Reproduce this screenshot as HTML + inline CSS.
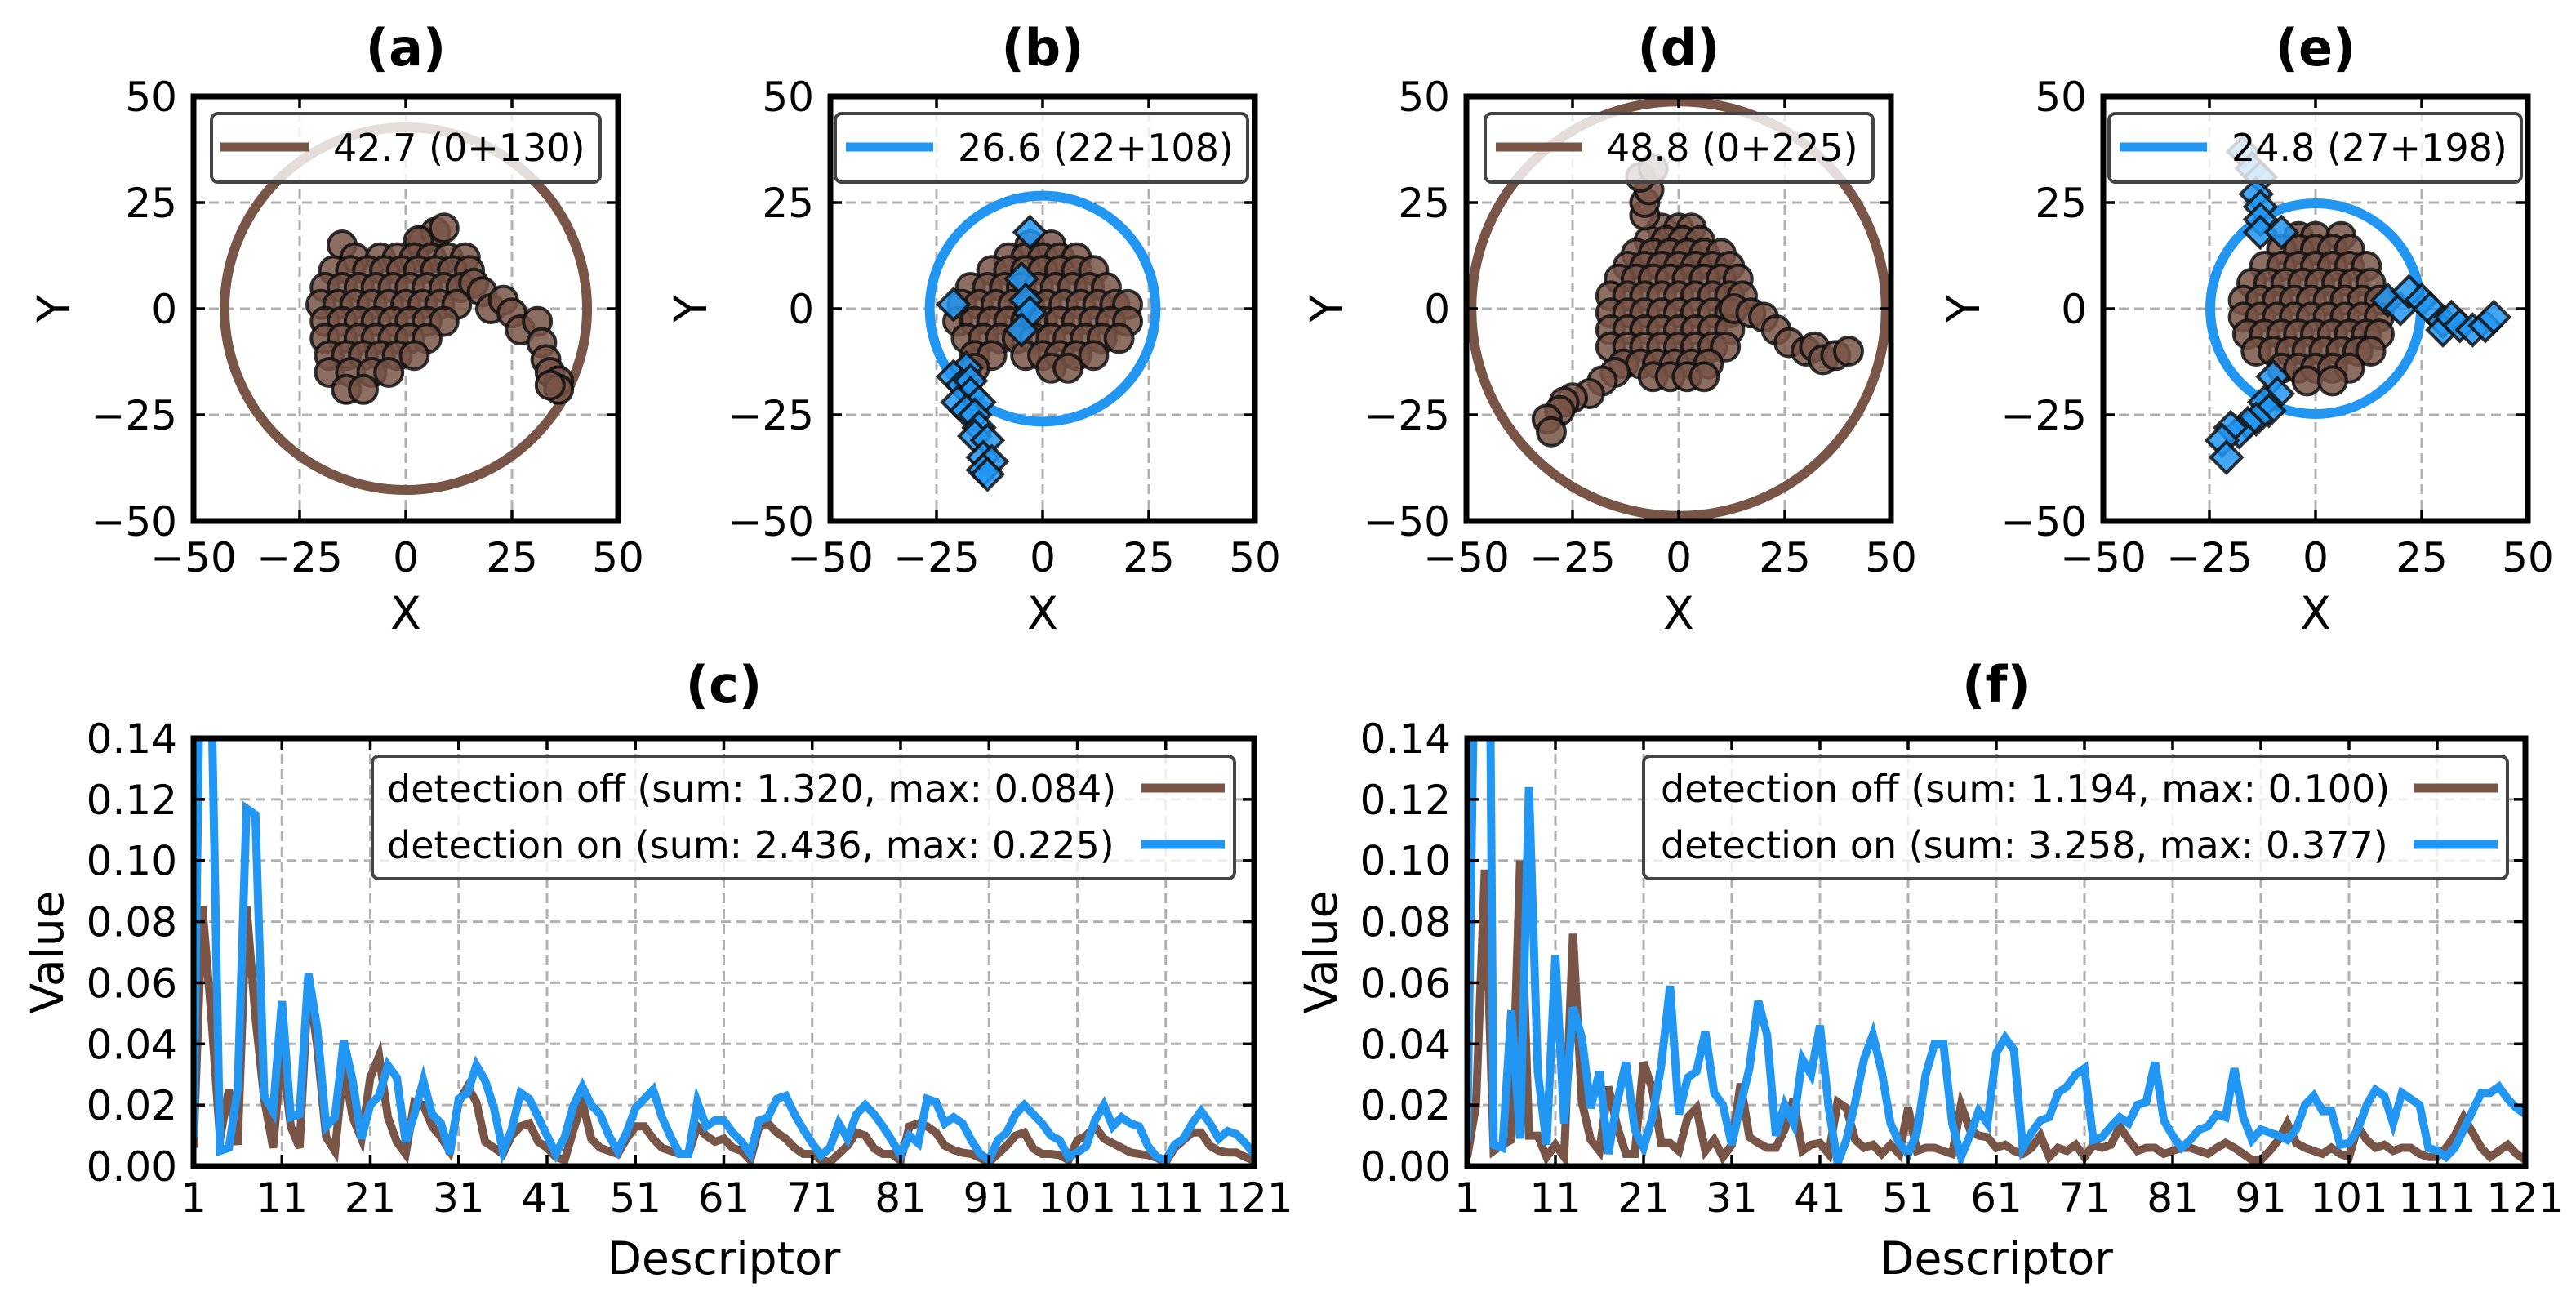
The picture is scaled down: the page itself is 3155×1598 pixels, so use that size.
<!DOCTYPE html>
<html><head><meta charset="utf-8"><style>
html,body{margin:0;padding:0;background:#fff;}
svg{display:block;font-family:"DejaVu Sans","Liberation Sans",sans-serif;}
</style></head><body>
<svg id="fig" width="3155" height="1598" viewBox="0 0 3155 1598" xmlns="http://www.w3.org/2000/svg"></svg>
<script>
// ---------- DATA ----------
const scatterTicks = [-50, -25, 0, 25, 50];
const lineYTicks = [0, 0.02, 0.04, 0.06, 0.08, 0.10, 0.12, 0.14];
const lineXTicks = [1, 11, 21, 31, 41, 51, 61, 71, 81, 91, 101, 111, 121];

const aCircles = [[-15,15],[4,16],[7,18],[9,19],[3,16],[-12,12],[-6,12],[-2,12],[2,12],[6,12],[10,12],[14,12],
[-17,9],[-13,9],[-9,9],[-5,9],[-1,9],[3,9],[7,9],[11,9],[15,9],[-19,5],[-15,5],[-11,5],[-7,5],[-3,5],[1,5],[5,5],[9,5],[13,5],[16,6],
[-20,1],[-16,1],[-12,1],[-8,1],[-4,1],[0,1],[4,1],[8,1],[12,1],[-19,-3],[-15,-3],[-11,-3],[-7,-3],[-3,-3],[1,-3],[5,-3],[9,-3],
[-19,-7],[-15,-7],[-11,-7],[-7,-7],[-3,-7],[1,-7],[5,-7],[-18,-11],[-14,-11],[-10,-11],[-6,-11],[-2,-11],[2,-11],
[-18,-15],[-13,-15],[-8,-15],[-4,-15],[-14,-19],[-10,-19],
[18,4],[20,0],[23,2],[25,-1],[27,-5],[31,-3],[32,-8],[33,-12],[34,-15],[36,-17],[36,-19],[34,-18]];
const aRadius = 42.7;

const bCircles = [[-3,15],[2,15],[-8,12],[-4,12],[0,12],[4,12],[8,12],[-12,9],[-8,9],[-4,9],[0,9],[4,9],[8,9],[12,9],
[-17,5],[-13,5],[-9,5],[-5,5],[-1,5],[3,5],[7,5],[11,5],[15,5],[-19,1],[-15,1],[-11,1],[-7,1],[-3,1],[1,1],[5,1],[9,1],[13,1],[17,1],[20,1],
[-20,-3],[-16,-3],[-12,-3],[-8,-3],[-4,-3],[0,-3],[4,-3],[8,-3],[12,-3],[16,-3],[20,-3],
[-18,-7],[-14,-7],[-10,-7],[-6,-7],[-2,-7],[2,-7],[6,-7],[10,-7],[14,-7],[18,-7],
[-16,-11],[-12,-11],[-4,-11],[0,-11],[4,-11],[8,-11],[12,-11],[-16,-14],[2,-14],[6,-14]];
const bDiamonds = [[-3,18],[-5,7],[-4,2],[-3,-1],[-5,-5],[-21,1],[-18,-14],[-21,-16],[-19,-18],[-17,-17],[-17,-20],[-20,-22],
[-15,-22],[-18,-24],[-16,-25],[-15,-28],[-16,-30],[-13,-31],[-14,-35],[-12,-36],[-14,-38],[-13,-39]];
const bRadius = 26.6;

const dCircles = [[-4,19],[0,19],[3,19],[-7,16],[-3,16],[1,16],[5,16],[-10,13],[-6,13],[-2,13],[2,13],[6,13],[10,13],
[-12,10],[-8,10],[-4,10],[0,10],[4,10],[8,10],[12,10],[-14,7],[-10,7],[-6,7],[-2,7],[2,7],[6,7],[10,7],[14,7],
[-16,3],[-12,3],[-8,3],[-4,3],[0,3],[4,3],[8,3],[12,3],[15,3],[-16,-1],[-12,-1],[-8,-1],[-4,-1],[0,-1],[4,-1],[8,-1],[12,-1],
[-16,-5],[-12,-5],[-8,-5],[-4,-5],[0,-5],[4,-5],[8,-5],[12,-5],[-16,-9],[-12,-9],[-8,-9],[-4,-9],[0,-9],[4,-9],[8,-9],[11,-9],
[-13,-13],[-9,-13],[-5,-13],[-1,-13],[3,-13],[7,-13],[-6,-16],[-2,-16],[2,-16],[6,-16],
[-8,22],[-8,25],[-7,28],[-9,31],[-6,33],
[-15,-15],[-18,-17],[-21,-20],[-25,-21],[-27,-22],[-28,-24],[-31,-26],[-30,-29],
[13,0],[17,-1],[20,-2],[23,-5],[26,-8],[30,-10],[32,-9],[34,-12],[37,-11],[40,-10]];
const dRadius = 48.8;

const eCircles = [[-4,17],[0,17],[6,17],[-8,14],[-4,14],[0,14],[4,14],[8,14],[-12,10],[-8,10],[-4,10],[0,10],[4,10],[8,10],[12,10],
[-15,6],[-11,6],[-7,6],[-3,6],[1,6],[5,6],[9,6],[13,6],[-17,2],[-13,2],[-9,2],[-5,2],[-1,2],[3,2],[7,2],[11,2],[15,2],
[-17,-2],[-13,-2],[-9,-2],[-5,-2],[-1,-2],[3,-2],[7,-2],[11,-2],[15,-2],[-16,-6],[-12,-6],[-8,-6],[-4,-6],[0,-6],[4,-6],[8,-6],[12,-6],[15,-6],
[-14,-10],[-10,-10],[-6,-10],[-2,-10],[2,-10],[6,-10],[10,-10],[13,-10],[-8,-14],[-4,-14],[0,-14],[4,-14],[8,-14],[-2,-17],[4,-17]];
const eDiamonds = [[-17,37],[-15,33],[-13,31],[-14,27],[-13,24],[-13,21],[-13,18],[-8,18],
[17,2],[20,0],[22,4],[25,2],[27,0],[30,-3],[30,-5],[32,-2],[34,-4],[37,-5],[40,-4],[42,-2],
[-10,-16],[-9,-20],[-12,-22],[-11,-24],[-14,-26],[-16,-27],[-18,-29],[-20,-28],[-22,-31],[-21,-35]];
const eRadius = 24.8;

const cOff = [0.006,0.085,0.05,0.009,0.025,0.007,0.085,0.049,0.022,0.006,0.038,0.013,0.006,0.061,0.039,0.0095,0.005,0.033,0.016,0.009,
0.029,0.036,0.016,0.008,0.004,0.021,0.02,0.013,0.0095,0.005,0.021,0.026,0.021,0.008,0.006,0.004,0.010,0.013,0.014,0.008,
0.006,0.003,0.002,0.012,0.021,0.009,0.006,0.005,0.004,0.009,0.013,0.013,0.009,0.006,0.005,0.004,0.004,0.013,0.01,0.008,
0.009,0.006,0.005,0.002,0.013,0.014,0.011,0.009,0.006,0.004,0.004,0.002,0.0013,0.004,0.0067,0.011,0.010,0.0058,0.004,0.004,
0.0018,0.013,0.014,0.013,0.011,0.0067,0.0053,0.0044,0.004,0.0027,0.0013,0.004,0.0067,0.010,0.011,0.0058,0.004,0.004,0.0036,0.002,
0.0085,0.010,0.013,0.009,0.0075,0.006,0.0045,0.004,0.0036,0.0027,0.0013,0.006,0.0085,0.011,0.011,0.0067,0.005,0.0045,0.0045,0.003,0.0018];
const cOn = [0.0095,0.225,0.16,0.005,0.006,0.025,0.117,0.115,0.023,0.018,0.054,0.016,0.017,0.063,0.045,0.013,0.016,0.041,0.028,0.009,
0.02,0.023,0.033,0.029,0.008,0.017,0.028,0.017,0.014,0.004,0.022,0.024,0.033,0.028,0.019,0.005,0.012,0.024,0.022,0.016,
0.010,0.004,0.0095,0.02,0.026,0.02,0.017,0.01,0.005,0.011,0.019,0.022,0.025,0.016,0.0095,0.004,0.004,0.021,0.013,0.015,
0.015,0.011,0.008,0.004,0.015,0.016,0.022,0.023,0.017,0.012,0.0075,0.0035,0.006,0.014,0.009,0.017,0.020,0.017,0.013,0.0085,
0.0035,0.010,0.0075,0.022,0.021,0.014,0.016,0.014,0.0085,0.004,0.002,0.0085,0.011,0.017,0.020,0.017,0.014,0.010,0.0085,0.003,
0.0045,0.0065,0.015,0.020,0.013,0.016,0.014,0.013,0.0065,0.003,0.002,0.007,0.009,0.014,0.018,0.014,0.009,0.0115,0.0105,0.0075,0.004];
const fOff = [0.003,0.02,0.097,0.005,0.007,0.0086,0.1,0.010,0.010,0.003,0.007,0.003,0.076,0.021,0.0086,0.005,0.026,0.013,0.004,0.004,
0.034,0.025,0.0076,0.0076,0.005,0.016,0.019,0.005,0.0086,0.003,0.007,0.027,0.0095,0.0076,0.006,0.006,0.012,0.022,0.005,0.007,
0.0076,0.004,0.021,0.019,0.0086,0.006,0.007,0.004,0.007,0.004,0.019,0.005,0.006,0.006,0.005,0.004,0.020,0.012,0.010,0.0095,
0.006,0.007,0.005,0.004,0.006,0.010,0.003,0.006,0.005,0.007,0.003,0.007,0.006,0.007,0.013,0.0086,0.005,0.006,0.006,0.004,
0.005,0.006,0.006,0.005,0.004,0.006,0.0076,0.006,0.004,0.002,0.002,0.005,0.0086,0.014,0.0076,0.006,0.005,0.004,0.006,0.004,
0.003,0.013,0.0086,0.006,0.007,0.005,0.006,0.006,0.004,0.003,0.003,0.006,0.010,0.016,0.011,0.006,0.003,0.005,0.007,0.004,0.002];
const fOn = [0.0086,0.2,0.377,0.007,0.006,0.051,0.009,0.124,0.031,0.007,0.069,0.014,0.052,0.042,0.019,0.031,0.004,0.021,0.034,0.012,
0.006,0.016,0.033,0.059,0.017,0.029,0.031,0.044,0.024,0.020,0.007,0.020,0.032,0.054,0.043,0.010,0.020,0.014,0.035,0.030,
0.046,0.019,0.001,0.0086,0.021,0.035,0.043,0.031,0.014,0.0076,0.004,0.011,0.030,0.040,0.040,0.014,0.003,0.010,0.018,0.014,
0.037,0.042,0.038,0.006,0.011,0.015,0.016,0.024,0.026,0.030,0.032,0.0086,0.0095,0.013,0.016,0.014,0.020,0.021,0.034,0.015,
0.010,0.006,0.0086,0.012,0.013,0.017,0.016,0.032,0.016,0.0086,0.012,0.011,0.010,0.0086,0.012,0.020,0.023,0.018,0.018,0.007,
0.0076,0.012,0.020,0.025,0.023,0.014,0.024,0.022,0.020,0.006,0.005,0.003,0.006,0.012,0.018,0.024,0.024,0.026,0.022,0.019,0.017];

// ---------- DRAWING ----------
const NS = 'http://www.w3.org/2000/svg';
const svg = document.getElementById('fig');
const BROWN = '#795548', BLUE = '#2196F3';
function mk(tag, attrs, parent) {
  const e = document.createElementNS(NS, tag);
  for (const k in attrs) e.setAttribute(k, attrs[k]);
  (parent || svg).appendChild(e);
  return e;
}
function txt(s, x, y, size, anchor, parent, weight) {
  const t = mk('text', {x: x, y: y, 'font-size': size, 'text-anchor': anchor || 'middle', fill: '#000'}, parent);
  if (weight) t.setAttribute('font-weight', weight);
  t.textContent = s;
  return t;
}
let clipId = 0;
function makeAxes(name, L, T, R, B, xmin, xmax, ymin, ymax, xticks, yticks, xfmt, yfmt, title, xlabel, ylabel, ylabX, xtY, xlY, titleY) {
  const g = mk('g', {});
  
  
  const sx = v => L + (v - xmin) / (xmax - xmin) * (R - L);
  const sy = v => B - (v - ymin) / (ymax - ymin) * (B - T);
  const grid = mk('g', {stroke: '#b0b0b0', 'stroke-width': 3, 'stroke-dasharray': '12,7'}, g);
  
  
  xticks.forEach(v => { if (v > xmin && v < xmax) mk('line', {x1: sx(v), x2: sx(v), y1: T, y2: B}, grid); });
  yticks.forEach(v => { if (v > ymin && v < ymax) mk('line', {x1: L, x2: R, y1: sy(v), y2: sy(v)}, grid); });
  const id = 'clip' + (clipId++);
  const cp = mk('clipPath', {id: id}, g);
  mk('rect', {x: L, y: T, width: R - L, height: B - T}, cp);
  const plot = mk('g', {'clip-path': 'url(#' + id + ')'}, g);
  
  
  const ticks = mk('g', {stroke: '#000', 'stroke-width': 3.5}, g);
  
  
  const tl = 14;
  xticks.forEach(v => {
    mk('line', {x1: sx(v), x2: sx(v), y1: B, y2: B - tl}, ticks);
    mk('line', {x1: sx(v), x2: sx(v), y1: T, y2: T + tl}, ticks);
    const t = txt(xfmt(v), sx(v), xtY, 50, 'middle', g);
    
    
  });
  yticks.forEach(v => {
    mk('line', {x1: L, x2: L + tl, y1: sy(v), y2: sy(v)}, ticks);
    mk('line', {x1: R, x2: R - tl, y1: sy(v), y2: sy(v)}, ticks);
    const t = txt(yfmt(v), L - 20, sy(v) + 18, 50, 'end', g);
    
    
  });
  const tt = txt(title, (L + R) / 2, titleY, 62, 'middle', g, 'bold');
  
  
  const xl = txt(xlabel, (L + R) / 2, xlY, 55, 'middle', g);
  
  
  const yl = txt(ylabel, 0, 0, 55, 'middle', g);
  yl.setAttribute('transform', 'translate(' + ylabX + ',' + ((T + B) / 2) + ') rotate(-90)');
  
  
  return {g, plot, sx, sy, L, T, R, B, finish: () => {
    const sp = mk('rect', {x: L, y: T, width: R - L, height: B - T, fill: 'none', stroke: '#000', 'stroke-width': 7}, g);
    
    
  }};
}

function scatterPanel(name, L, title, circles, diamonds, radius, ringColor, legendText, lg) {
  const ax = makeAxes(name, L, 118, L + 520, 638, -50, 50, -50, 50, scatterTicks, scatterTicks,
    v => (v < 0 ? '\u2212' + (-v) : '' + v), v => (v < 0 ? '\u2212' + (-v) : '' + v),
    title, 'X', 'Y', L - 152, 700, 770, 80);
  const pxPerUnit = 5.2;
  const ring = mk('circle', {cx: ax.sx(0), cy: ax.sy(0), r: radius * pxPerUnit, fill: 'none', stroke: ringColor, 'stroke-width': 12}, ax.plot);
  
  
  circles.forEach(p => {
    const c = mk('circle', {cx: ax.sx(p[0]), cy: ax.sy(p[1]), r: 17, fill: BROWN, 'fill-opacity': 0.85, stroke: '#111', 'stroke-opacity': 0.85, 'stroke-width': 4}, ax.plot);
    
    
  });
  diamonds.forEach(p => {
    const x = ax.sx(p[0]), y = ax.sy(p[1]), h = 19;
    const d = mk('polygon', {points: `${x},${y-h} ${x+h},${y} ${x},${y+h} ${x-h},${y}`, fill: BLUE, 'fill-opacity': 0.85, stroke: '#111', 'stroke-opacity': 0.85, 'stroke-width': 4}, ax.plot);
    
    
  });
  const leg = mk('g', {}, ax.g);
  
  
  mk('rect', {x: lg[0], y: 139, width: lg[1] - lg[0], height: 84, rx: 8, fill: '#fff', 'fill-opacity': 0.8, stroke: '#444', 'stroke-width': 4}, leg);
  mk('line', {x1: lg[2], x2: lg[3], y1: 180, y2: 180, stroke: ringColor, 'stroke-width': 11}, leg);
  txt(legendText, lg[4], 197, 46, 'start', leg);
  ax.finish();
}

scatterPanel('panel-a', 237, '(a)', aCircles, [], aRadius, BROWN, '42.7 (0+130)', [259, 735, 270, 378, 408]);
scatterPanel('panel-b', 1017, '(b)', bCircles, bDiamonds, bRadius, BLUE, '26.6 (22+108)', [1023, 1528, 1036, 1143, 1173]);
scatterPanel('panel-d', 1796, '(d)', dCircles, [], dRadius, BROWN, '48.8 (0+225)', [1819, 2294, 1832, 1937, 1967]);
scatterPanel('panel-e', 2576, '(e)', eCircles, eDiamonds, eRadius, BLUE, '24.8 (27+198)', [2583, 3088, 2596, 2703, 2733]);

function linePanel(name, L, R, title, off, on, offText, onText, lg) {
  const ax = makeAxes(name, L, 904, R, 1428, 1, 121, 0, 0.14, lineXTicks, lineYTicks,
    v => '' + v, v => v.toFixed(2), title, 'Descriptor', 'Value', L - 160, 1484, 1560, 860);
  [[off, BROWN, 'series-detection-off'], [on, BLUE, 'series-detection-on']].forEach(s => {
    const pts = s[0].map((v, i) => ax.sx(i + 1).toFixed(1) + ',' + ax.sy(v).toFixed(1)).join(' ');
    const pl = mk('polyline', {points: pts, fill: 'none', stroke: s[1], 'stroke-width': 10, 'stroke-linejoin': 'miter'}, ax.plot);
    
    
  });
  const leg = mk('g', {}, ax.g);
  
  
  mk('rect', {x: lg[0], y: 926, width: lg[1] - lg[0], height: 150, rx: 8, fill: '#fff', 'fill-opacity': 0.8, stroke: '#444', 'stroke-width': 4}, leg);
  txt(offText, lg[2], 982, 46, 'start', leg);
  txt(onText, lg[2], 1051, 46, 'start', leg);
  mk('line', {x1: lg[3], x2: lg[4], y1: 965, y2: 965, stroke: BROWN, 'stroke-width': 11}, leg);
  mk('line', {x1: lg[3], x2: lg[4], y1: 1034, y2: 1034, stroke: BLUE, 'stroke-width': 11}, leg);
  ax.finish();
}
linePanel('panel-c', 237, 1536, '(c)', cOff, cOn, 'detection off (sum: 1.320, max: 0.084)', 'detection on (sum: 2.436, max: 0.225)', [456, 1512, 474, 1398, 1500]);
linePanel('panel-f', 1797, 3093, '(f)', fOff, fOn, 'detection off (sum: 1.194, max: 0.100)', 'detection on (sum: 3.258, max: 0.377)', [2013, 3071, 2034, 2956, 3059]);
</script>
</body></html>
